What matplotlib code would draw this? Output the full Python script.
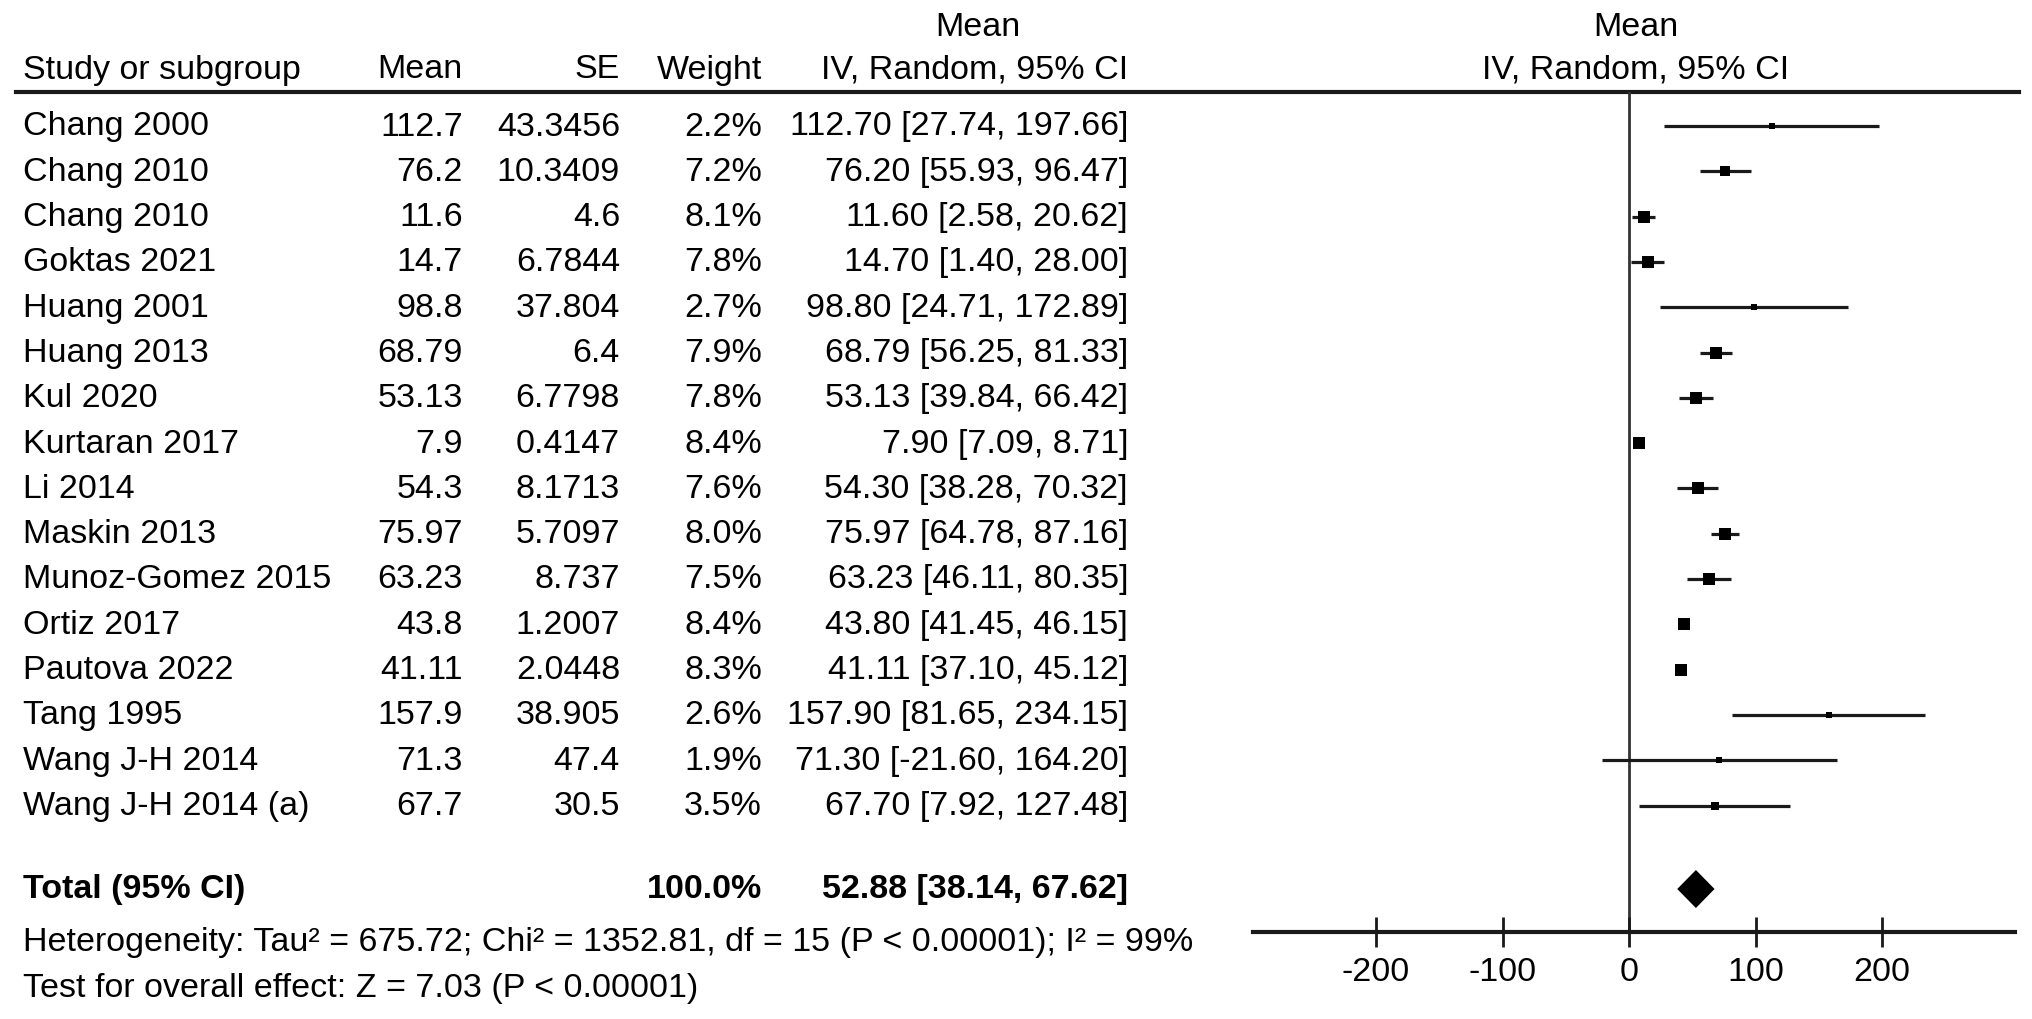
import matplotlib
matplotlib.use("Agg")
import matplotlib.pyplot as plt
from matplotlib.lines import Line2D

plt.rcParams['font.family'] = ['Liberation Sans', 'DejaVu Sans']
plt.rcParams['axes.unicode_minus'] = False

studies = ["Chang 2000", "Chang 2010", "Chang 2010", "Goktas 2021", "Huang 2001",
           "Huang 2013", "Kul 2020", "Kurtaran 2017", "Li 2014", "Maskin 2013",
           "Munoz-Gomez 2015", "Ortiz 2017", "Pautova 2022", "Tang 1995",
           "Wang J-H 2014", "Wang J-H 2014 (a)"]
means = ["112.7", "76.2", "11.6", "14.7", "98.8", "68.79", "53.13", "7.9", "54.3",
         "75.97", "63.23", "43.8", "41.11", "157.9", "71.3", "67.7"]
ses = ["43.3456", "10.3409", "4.6", "6.7844", "37.804", "6.4", "6.7798", "0.4147",
       "8.1713", "5.7097", "8.737", "1.2007", "2.0448", "38.905", "47.4", "30.5"]
weights = [2.2, 7.2, 8.1, 7.8, 2.7, 7.9, 7.8, 8.4, 7.6, 8.0, 7.5, 8.4, 8.3, 2.6, 1.9, 3.5]
est = [112.70, 76.20, 11.60, 14.70, 98.80, 68.79, 53.13, 7.90, 54.30, 75.97, 63.23,
       43.80, 41.11, 157.90, 71.30, 67.70]
ci_lo = [27.74, 55.93, 2.58, 1.40, 24.71, 56.25, 39.84, 7.09, 38.28, 64.78, 46.11,
         41.45, 37.10, 81.65, -21.60, 7.92]
ci_hi = [197.66, 96.47, 20.62, 28.00, 172.89, 81.33, 66.42, 8.71, 70.32, 87.16, 80.35,
         46.15, 45.12, 234.15, 164.20, 127.48]
total_weight = 100.0
total_est, total_lo, total_hi = 52.88, 38.14, 67.62
het_text = "Heterogeneity: Tau² = 675.72; Chi² = 1352.81, df = 15 (P < 0.00001); I² = 99%"
test_text = "Test for overall effect: Z = 7.03 (P < 0.00001)"
xticks = [-200, -100, 0, 100, 200]

W, H = 2032, 1020
ROW0, ROWH = 127, 45.3
FS = 24.5

fig = plt.figure(figsize=(W / 100, H / 100), dpi=100)

# overlay in pixel units for the table part
tab = fig.add_axes([0, 0, 1, 1])
tab.set_xlim(0, W)
tab.set_ylim(H, 0)
tab.axis("off")


def row_y(i):
    return ROW0 + i * ROWH


# headers
hy = 70
tab.text(23, hy, "Study or subgroup", fontsize=FS, va="center", ha="left")
tab.text(463, hy, "Mean", fontsize=FS, va="center", ha="right")
tab.text(620, hy, "SE", fontsize=FS, va="center", ha="right")
tab.text(762, hy, "Weight", fontsize=FS, va="center", ha="right")
tab.text(1128, hy, "IV, Random, 95% CI", fontsize=FS, va="center", ha="right")
tab.text(978, 27, "Mean", fontsize=FS, va="center", ha="center")
tab.text(1636, 27, "Mean", fontsize=FS, va="center", ha="center")
tab.text(1636, hy, "IV, Random, 95% CI", fontsize=FS, va="center", ha="center")
tab.add_line(Line2D([16, 2019], [93, 93], color="#1a1a1a", lw=3))

for i, name in enumerate(studies):
    y = row_y(i)
    tab.text(23, y, name, fontsize=FS, va="center", ha="left")
    tab.text(463, y, means[i], fontsize=FS, va="center", ha="right")
    tab.text(620, y, ses[i], fontsize=FS, va="center", ha="right")
    tab.text(762, y, "%.1f%%" % weights[i], fontsize=FS, va="center", ha="right")
    tab.text(1128, y, "%.2f [%.2f, %.2f]" % (est[i], ci_lo[i], ci_hi[i]),
             fontsize=FS, va="center", ha="right")

ty = 890
tab.text(23, ty, "Total (95% CI)", fontsize=FS, va="center", ha="left", weight="bold")
tab.text(762, ty, "%.1f%%" % total_weight, fontsize=FS, va="center", ha="right",
         weight="bold")
tab.text(1128, ty, "%.2f [%.2f, %.2f]" % (total_est, total_lo, total_hi), fontsize=FS,
         va="center", ha="right", weight="bold")
tab.text(23, 943, het_text, fontsize=FS, va="center", ha="left")
tab.text(23, 989, test_text, fontsize=FS, va="center", ha="left")

# forest panel
xmin, xmax = -297, 305
px_per_unit = 1.265
zero_px = 1629
left_px = zero_px + xmin * px_per_unit
right_px = zero_px + xmax * px_per_unit
top_px, bot_px = 93, 933
fx = fig.add_axes([left_px / W, 1 - bot_px / H, (right_px - left_px) / W,
                   (bot_px - top_px) / H])
fx.set_xlim(xmin, xmax)
fx.set_ylim((bot_px - ROW0) / ROWH, (top_px - ROW0) / ROWH)
fx.patch.set_alpha(0)
for s in ["top", "left", "right"]:
    fx.spines[s].set_visible(False)
fx.spines["bottom"].set_linewidth(3)
fx.spines["bottom"].set_color("#1a1a1a")
fx.set_yticks([])
fx.set_xticks(xticks)
fx.set_xticklabels([str(t) for t in xticks], fontsize=FS)
fx.tick_params(axis="x", direction="inout", length=22, width=2, color="#1a1a1a", pad=6)
fx.axvline(0, color="#333333", lw=2, zorder=1)

for i in range(len(studies)):
    fx.plot([ci_lo[i], ci_hi[i]], [i, i], color="#1a1a1a", lw=2.3, solid_capstyle="butt")
    fx.plot(est[i], i, marker="s", color="black", ms=8.5 * (weights[i] / 8.4) ** 0.5,
            mew=0)

tot_row = (ty - ROW0) / ROWH
dh = 19 / ROWH
fx.fill([total_lo, total_est, total_hi, total_est],
        [tot_row, tot_row - dh, tot_row, tot_row + dh], color="black", lw=0)

fig.savefig("out.png", dpi=100)
